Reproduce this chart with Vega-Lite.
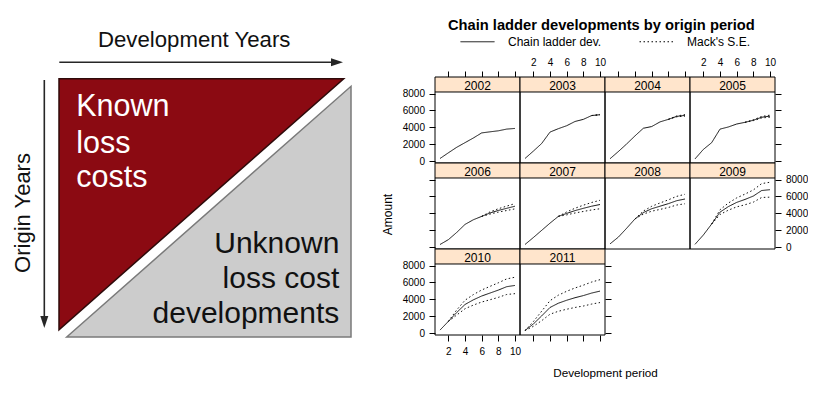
{
  "$schema": "https://vega.github.io/schema/vega-lite/v6.json",
  "background": "#ffffff",
  "autosize": {"type": "pad"},
  "padding": {"left": 11, "top": 18, "right": 0, "bottom": 0},
  "config": {
    "font": "Liberation Sans",
    "view": {"stroke": null},
    "axis": {"domain": false, "grid": false, "ticks": true, "tickColor": "#000", "tickSize": 6, "tickWidth": 1, "labelFontSize": 10, "labelColor": "#000", "labelFont": "Liberation Sans", "labelOverlap": false, "labelFlush": false, "labelBound": false, "titleFont": "Liberation Sans", "titleFontWeight": "normal", "titleColor": "#000"}
  },
  "datasets": {
    "dev": [
      {"o":2002,"d":1,"v":330,"s":"Chain ladder dev.","b":"m"},{"o":2002,"d":2,"v":1000,"s":"Chain ladder dev.","b":"m"},{"o":2002,"d":3,"v":1650,"s":"Chain ladder dev.","b":"m"},{"o":2002,"d":4,"v":2200,"s":"Chain ladder dev.","b":"m"},{"o":2002,"d":5,"v":2750,"s":"Chain ladder dev.","b":"m"},{"o":2002,"d":6,"v":3350,"s":"Chain ladder dev.","b":"m"},{"o":2002,"d":7,"v":3480,"s":"Chain ladder dev.","b":"m"},{"o":2002,"d":8,"v":3600,"s":"Chain ladder dev.","b":"m"},{"o":2002,"d":9,"v":3800,"s":"Chain ladder dev.","b":"m"},{"o":2002,"d":10,"v":3880,"s":"Chain ladder dev.","b":"m"},
      {"o":2003,"d":1,"v":330,"s":"Chain ladder dev.","b":"m"},{"o":2003,"d":2,"v":1200,"s":"Chain ladder dev.","b":"m"},{"o":2003,"d":3,"v":2100,"s":"Chain ladder dev.","b":"m"},{"o":2003,"d":4,"v":3450,"s":"Chain ladder dev.","b":"m"},{"o":2003,"d":5,"v":3850,"s":"Chain ladder dev.","b":"m"},{"o":2003,"d":6,"v":4200,"s":"Chain ladder dev.","b":"m"},{"o":2003,"d":7,"v":4700,"s":"Chain ladder dev.","b":"m"},{"o":2003,"d":8,"v":4950,"s":"Chain ladder dev.","b":"m"},{"o":2003,"d":9,"v":5400,"s":"Chain ladder dev.","b":"m"},{"o":2003,"d":10,"v":5500,"s":"Chain ladder dev.","b":"m"},
      {"o":2004,"d":1,"v":300,"s":"Chain ladder dev.","b":"m"},{"o":2004,"d":2,"v":1150,"s":"Chain ladder dev.","b":"m"},{"o":2004,"d":3,"v":2050,"s":"Chain ladder dev.","b":"m"},{"o":2004,"d":4,"v":3000,"s":"Chain ladder dev.","b":"m"},{"o":2004,"d":5,"v":3900,"s":"Chain ladder dev.","b":"m"},{"o":2004,"d":6,"v":4100,"s":"Chain ladder dev.","b":"m"},{"o":2004,"d":7,"v":4650,"s":"Chain ladder dev.","b":"m"},{"o":2004,"d":8,"v":4950,"s":"Chain ladder dev.","b":"m"},{"o":2004,"d":9,"v":5300,"s":"Chain ladder dev.","b":"m"},{"o":2004,"d":10,"v":5420,"s":"Chain ladder dev.","b":"m"},
      {"o":2005,"d":1,"v":280,"s":"Chain ladder dev.","b":"m"},{"o":2005,"d":2,"v":1400,"s":"Chain ladder dev.","b":"m"},{"o":2005,"d":3,"v":2200,"s":"Chain ladder dev.","b":"m"},{"o":2005,"d":4,"v":3800,"s":"Chain ladder dev.","b":"m"},{"o":2005,"d":5,"v":4050,"s":"Chain ladder dev.","b":"m"},{"o":2005,"d":6,"v":4400,"s":"Chain ladder dev.","b":"m"},{"o":2005,"d":7,"v":4600,"s":"Chain ladder dev.","b":"m"},{"o":2005,"d":8,"v":4850,"s":"Chain ladder dev.","b":"m"},{"o":2005,"d":9,"v":5200,"s":"Chain ladder dev.","b":"m"},{"o":2005,"d":10,"v":5330,"s":"Chain ladder dev.","b":"m"},
      {"o":2006,"d":1,"v":330,"s":"Chain ladder dev.","b":"m"},{"o":2006,"d":2,"v":900,"s":"Chain ladder dev.","b":"m"},{"o":2006,"d":3,"v":1750,"s":"Chain ladder dev.","b":"m"},{"o":2006,"d":4,"v":2700,"s":"Chain ladder dev.","b":"m"},{"o":2006,"d":5,"v":3250,"s":"Chain ladder dev.","b":"m"},{"o":2006,"d":6,"v":3650,"s":"Chain ladder dev.","b":"m"},{"o":2006,"d":7,"v":4050,"s":"Chain ladder dev.","b":"m"},{"o":2006,"d":8,"v":4350,"s":"Chain ladder dev.","b":"m"},{"o":2006,"d":9,"v":4600,"s":"Chain ladder dev.","b":"m"},{"o":2006,"d":10,"v":4850,"s":"Chain ladder dev.","b":"m"},
      {"o":2007,"d":1,"v":330,"s":"Chain ladder dev.","b":"m"},{"o":2007,"d":2,"v":1150,"s":"Chain ladder dev.","b":"m"},{"o":2007,"d":3,"v":2000,"s":"Chain ladder dev.","b":"m"},{"o":2007,"d":4,"v":2850,"s":"Chain ladder dev.","b":"m"},{"o":2007,"d":5,"v":3650,"s":"Chain ladder dev.","b":"m"},{"o":2007,"d":6,"v":4000,"s":"Chain ladder dev.","b":"m"},{"o":2007,"d":7,"v":4330,"s":"Chain ladder dev.","b":"m"},{"o":2007,"d":8,"v":4600,"s":"Chain ladder dev.","b":"m"},{"o":2007,"d":9,"v":4850,"s":"Chain ladder dev.","b":"m"},{"o":2007,"d":10,"v":5050,"s":"Chain ladder dev.","b":"m"},
      {"o":2008,"d":1,"v":400,"s":"Chain ladder dev.","b":"m"},{"o":2008,"d":2,"v":1200,"s":"Chain ladder dev.","b":"m"},{"o":2008,"d":3,"v":2250,"s":"Chain ladder dev.","b":"m"},{"o":2008,"d":4,"v":3350,"s":"Chain ladder dev.","b":"m"},{"o":2008,"d":5,"v":4100,"s":"Chain ladder dev.","b":"m"},{"o":2008,"d":6,"v":4550,"s":"Chain ladder dev.","b":"m"},{"o":2008,"d":7,"v":4850,"s":"Chain ladder dev.","b":"m"},{"o":2008,"d":8,"v":5150,"s":"Chain ladder dev.","b":"m"},{"o":2008,"d":9,"v":5500,"s":"Chain ladder dev.","b":"m"},{"o":2008,"d":10,"v":5700,"s":"Chain ladder dev.","b":"m"},
      {"o":2009,"d":1,"v":350,"s":"Chain ladder dev.","b":"m"},{"o":2009,"d":2,"v":1450,"s":"Chain ladder dev.","b":"m"},{"o":2009,"d":3,"v":2750,"s":"Chain ladder dev.","b":"m"},{"o":2009,"d":4,"v":4150,"s":"Chain ladder dev.","b":"m"},{"o":2009,"d":5,"v":4800,"s":"Chain ladder dev.","b":"m"},{"o":2009,"d":6,"v":5300,"s":"Chain ladder dev.","b":"m"},{"o":2009,"d":7,"v":5650,"s":"Chain ladder dev.","b":"m"},{"o":2009,"d":8,"v":6050,"s":"Chain ladder dev.","b":"m"},{"o":2009,"d":9,"v":6700,"s":"Chain ladder dev.","b":"m"},{"o":2009,"d":10,"v":6800,"s":"Chain ladder dev.","b":"m"},
      {"o":2010,"d":1,"v":380,"s":"Chain ladder dev.","b":"m"},{"o":2010,"d":2,"v":1400,"s":"Chain ladder dev.","b":"m"},{"o":2010,"d":3,"v":2450,"s":"Chain ladder dev.","b":"m"},{"o":2010,"d":4,"v":3400,"s":"Chain ladder dev.","b":"m"},{"o":2010,"d":5,"v":3950,"s":"Chain ladder dev.","b":"m"},{"o":2010,"d":6,"v":4400,"s":"Chain ladder dev.","b":"m"},{"o":2010,"d":7,"v":4750,"s":"Chain ladder dev.","b":"m"},{"o":2010,"d":8,"v":5100,"s":"Chain ladder dev.","b":"m"},{"o":2010,"d":9,"v":5500,"s":"Chain ladder dev.","b":"m"},{"o":2010,"d":10,"v":5650,"s":"Chain ladder dev.","b":"m"},
      {"o":2011,"d":1,"v":330,"s":"Chain ladder dev.","b":"m"},{"o":2011,"d":2,"v":1100,"s":"Chain ladder dev.","b":"m"},{"o":2011,"d":3,"v":2050,"s":"Chain ladder dev.","b":"m"},{"o":2011,"d":4,"v":3050,"s":"Chain ladder dev.","b":"m"},{"o":2011,"d":5,"v":3550,"s":"Chain ladder dev.","b":"m"},{"o":2011,"d":6,"v":3900,"s":"Chain ladder dev.","b":"m"},{"o":2011,"d":7,"v":4200,"s":"Chain ladder dev.","b":"m"},{"o":2011,"d":8,"v":4450,"s":"Chain ladder dev.","b":"m"},{"o":2011,"d":9,"v":4750,"s":"Chain ladder dev.","b":"m"},{"o":2011,"d":10,"v":4980,"s":"Chain ladder dev.","b":"m"},

      {"o":2003,"d":9,"v":5400,"s":"Mack's S.E.","b":"u"},{"o":2003,"d":10,"v":5540,"s":"Mack's S.E.","b":"u"},
      {"o":2003,"d":9,"v":5400,"s":"Mack's S.E.","b":"l"},{"o":2003,"d":10,"v":5460,"s":"Mack's S.E.","b":"l"},
      {"o":2004,"d":8,"v":4950,"s":"Mack's S.E.","b":"u"},{"o":2004,"d":9,"v":5350,"s":"Mack's S.E.","b":"u"},{"o":2004,"d":10,"v":5510,"s":"Mack's S.E.","b":"u"},
      {"o":2004,"d":8,"v":4950,"s":"Mack's S.E.","b":"l"},{"o":2004,"d":9,"v":5250,"s":"Mack's S.E.","b":"l"},{"o":2004,"d":10,"v":5330,"s":"Mack's S.E.","b":"l"},
      {"o":2005,"d":7,"v":4600,"s":"Mack's S.E.","b":"u"},{"o":2005,"d":8,"v":4900,"s":"Mack's S.E.","b":"u"},{"o":2005,"d":9,"v":5290,"s":"Mack's S.E.","b":"u"},{"o":2005,"d":10,"v":5450,"s":"Mack's S.E.","b":"u"},
      {"o":2005,"d":7,"v":4600,"s":"Mack's S.E.","b":"l"},{"o":2005,"d":8,"v":4800,"s":"Mack's S.E.","b":"l"},{"o":2005,"d":9,"v":5110,"s":"Mack's S.E.","b":"l"},{"o":2005,"d":10,"v":5210,"s":"Mack's S.E.","b":"l"},
      {"o":2006,"d":6,"v":3650,"s":"Mack's S.E.","b":"u"},{"o":2006,"d":7,"v":4180,"s":"Mack's S.E.","b":"u"},{"o":2006,"d":8,"v":4550,"s":"Mack's S.E.","b":"u"},{"o":2006,"d":9,"v":4860,"s":"Mack's S.E.","b":"u"},{"o":2006,"d":10,"v":5160,"s":"Mack's S.E.","b":"u"},
      {"o":2006,"d":6,"v":3650,"s":"Mack's S.E.","b":"l"},{"o":2006,"d":7,"v":3920,"s":"Mack's S.E.","b":"l"},{"o":2006,"d":8,"v":4150,"s":"Mack's S.E.","b":"l"},{"o":2006,"d":9,"v":4340,"s":"Mack's S.E.","b":"l"},{"o":2006,"d":10,"v":4540,"s":"Mack's S.E.","b":"l"},
      {"o":2007,"d":5,"v":3650,"s":"Mack's S.E.","b":"u"},{"o":2007,"d":6,"v":4170,"s":"Mack's S.E.","b":"u"},{"o":2007,"d":7,"v":4610,"s":"Mack's S.E.","b":"u"},{"o":2007,"d":8,"v":4970,"s":"Mack's S.E.","b":"u"},{"o":2007,"d":9,"v":5290,"s":"Mack's S.E.","b":"u"},{"o":2007,"d":10,"v":5550,"s":"Mack's S.E.","b":"u"},
      {"o":2007,"d":5,"v":3650,"s":"Mack's S.E.","b":"l"},{"o":2007,"d":6,"v":3830,"s":"Mack's S.E.","b":"l"},{"o":2007,"d":7,"v":4050,"s":"Mack's S.E.","b":"l"},{"o":2007,"d":8,"v":4230,"s":"Mack's S.E.","b":"l"},{"o":2007,"d":9,"v":4410,"s":"Mack's S.E.","b":"l"},{"o":2007,"d":10,"v":4550,"s":"Mack's S.E.","b":"l"},
      {"o":2008,"d":4,"v":3350,"s":"Mack's S.E.","b":"u"},{"o":2008,"d":5,"v":4280,"s":"Mack's S.E.","b":"u"},{"o":2008,"d":6,"v":4840,"s":"Mack's S.E.","b":"u"},{"o":2008,"d":7,"v":5230,"s":"Mack's S.E.","b":"u"},{"o":2008,"d":8,"v":5600,"s":"Mack's S.E.","b":"u"},{"o":2008,"d":9,"v":6010,"s":"Mack's S.E.","b":"u"},{"o":2008,"d":10,"v":6260,"s":"Mack's S.E.","b":"u"},
      {"o":2008,"d":4,"v":3350,"s":"Mack's S.E.","b":"l"},{"o":2008,"d":5,"v":3920,"s":"Mack's S.E.","b":"l"},{"o":2008,"d":6,"v":4260,"s":"Mack's S.E.","b":"l"},{"o":2008,"d":7,"v":4470,"s":"Mack's S.E.","b":"l"},{"o":2008,"d":8,"v":4700,"s":"Mack's S.E.","b":"l"},{"o":2008,"d":9,"v":4990,"s":"Mack's S.E.","b":"l"},{"o":2008,"d":10,"v":5140,"s":"Mack's S.E.","b":"l"},
      {"o":2009,"d":3,"v":2750,"s":"Mack's S.E.","b":"u"},{"o":2009,"d":4,"v":4430,"s":"Mack's S.E.","b":"u"},{"o":2009,"d":5,"v":5220,"s":"Mack's S.E.","b":"u"},{"o":2009,"d":6,"v":5830,"s":"Mack's S.E.","b":"u"},{"o":2009,"d":7,"v":6280,"s":"Mack's S.E.","b":"u"},{"o":2009,"d":8,"v":6770,"s":"Mack's S.E.","b":"u"},{"o":2009,"d":9,"v":7520,"s":"Mack's S.E.","b":"u"},{"o":2009,"d":10,"v":7680,"s":"Mack's S.E.","b":"u"},
      {"o":2009,"d":3,"v":2750,"s":"Mack's S.E.","b":"l"},{"o":2009,"d":4,"v":3870,"s":"Mack's S.E.","b":"l"},{"o":2009,"d":5,"v":4380,"s":"Mack's S.E.","b":"l"},{"o":2009,"d":6,"v":4770,"s":"Mack's S.E.","b":"l"},{"o":2009,"d":7,"v":5020,"s":"Mack's S.E.","b":"l"},{"o":2009,"d":8,"v":5330,"s":"Mack's S.E.","b":"l"},{"o":2009,"d":9,"v":5880,"s":"Mack's S.E.","b":"l"},{"o":2009,"d":10,"v":5920,"s":"Mack's S.E.","b":"l"},
      {"o":2010,"d":2,"v":1400,"s":"Mack's S.E.","b":"u"},{"o":2010,"d":3,"v":2750,"s":"Mack's S.E.","b":"u"},{"o":2010,"d":4,"v":3900,"s":"Mack's S.E.","b":"u"},{"o":2010,"d":5,"v":4570,"s":"Mack's S.E.","b":"u"},{"o":2010,"d":6,"v":5110,"s":"Mack's S.E.","b":"u"},{"o":2010,"d":7,"v":5540,"s":"Mack's S.E.","b":"u"},{"o":2010,"d":8,"v":5960,"s":"Mack's S.E.","b":"u"},{"o":2010,"d":9,"v":6420,"s":"Mack's S.E.","b":"u"},{"o":2010,"d":10,"v":6620,"s":"Mack's S.E.","b":"u"},
      {"o":2010,"d":2,"v":1400,"s":"Mack's S.E.","b":"l"},{"o":2010,"d":3,"v":2150,"s":"Mack's S.E.","b":"l"},{"o":2010,"d":4,"v":2900,"s":"Mack's S.E.","b":"l"},{"o":2010,"d":5,"v":3330,"s":"Mack's S.E.","b":"l"},{"o":2010,"d":6,"v":3690,"s":"Mack's S.E.","b":"l"},{"o":2010,"d":7,"v":3960,"s":"Mack's S.E.","b":"l"},{"o":2010,"d":8,"v":4240,"s":"Mack's S.E.","b":"l"},{"o":2010,"d":9,"v":4580,"s":"Mack's S.E.","b":"l"},{"o":2010,"d":10,"v":4680,"s":"Mack's S.E.","b":"l"},
      {"o":2011,"d":1,"v":330,"s":"Mack's S.E.","b":"u"},{"o":2011,"d":2,"v":1380,"s":"Mack's S.E.","b":"u"},{"o":2011,"d":3,"v":2610,"s":"Mack's S.E.","b":"u"},{"o":2011,"d":4,"v":3850,"s":"Mack's S.E.","b":"u"},{"o":2011,"d":5,"v":4500,"s":"Mack's S.E.","b":"u"},{"o":2011,"d":6,"v":4960,"s":"Mack's S.E.","b":"u"},{"o":2011,"d":7,"v":5350,"s":"Mack's S.E.","b":"u"},{"o":2011,"d":8,"v":5680,"s":"Mack's S.E.","b":"u"},{"o":2011,"d":9,"v":6050,"s":"Mack's S.E.","b":"u"},{"o":2011,"d":10,"v":6330,"s":"Mack's S.E.","b":"u"},
      {"o":2011,"d":1,"v":330,"s":"Mack's S.E.","b":"l"},{"o":2011,"d":2,"v":820,"s":"Mack's S.E.","b":"l"},{"o":2011,"d":3,"v":1490,"s":"Mack's S.E.","b":"l"},{"o":2011,"d":4,"v":2250,"s":"Mack's S.E.","b":"l"},{"o":2011,"d":5,"v":2600,"s":"Mack's S.E.","b":"l"},{"o":2011,"d":6,"v":2840,"s":"Mack's S.E.","b":"l"},{"o":2011,"d":7,"v":3050,"s":"Mack's S.E.","b":"l"},{"o":2011,"d":8,"v":3220,"s":"Mack's S.E.","b":"l"},{"o":2011,"d":9,"v":3450,"s":"Mack's S.E.","b":"l"},{"o":2011,"d":10,"v":3630,"s":"Mack's S.E.","b":"l"}
    ]
  },
  "spacing": 84,
  "bounds": "flush",
  "hconcat": [
    {
      "width": 292,
      "height": 260,
      "layer": [
        {
          "data": {"values": [{"u": 0, "top": 0.0065, "bot": 0.972}, {"u": 0.975, "top": 0.0065, "bot": 0.0065}]},
          "mark": {"type": "area", "fill": "#8b0a12", "stroke": "#2e0a0a", "strokeWidth": 1.5, "opacity": 1},
          "encoding": {
            "x": {"field": "u", "type": "quantitative", "scale": {"domain": [0, 1], "nice": false, "zero": false}, "axis": null},
            "y": {"field": "top", "type": "quantitative", "scale": {"domain": [0, 1], "nice": false, "zero": false, "reverse": true}, "axis": null},
            "y2": {"field": "bot"}
          }
        },
        {
          "data": {"values": [{"u": 0.0264, "top": 1, "bot": 1}, {"u": 1, "top": 0.0358, "bot": 1}]},
          "mark": {"type": "area", "fill": "#cccccc", "stroke": "#7a7a7a", "strokeWidth": 1.5, "opacity": 1},
          "encoding": {
            "x": {"field": "u", "type": "quantitative"},
            "y": {"field": "top", "type": "quantitative"},
            "y2": {"field": "bot"}
          }
        },
        {
          "data": {"values": [{"x1": 0.001, "x2": 0.94, "y1": -0.0565, "y2": -0.0565}, {"x1": -0.0503, "x2": -0.0503, "y1": 0.0115, "y2": 0.93}]},
          "mark": {"type": "rule", "stroke": "#262626", "strokeWidth": 1.6},
          "encoding": {
            "x": {"field": "x1", "type": "quantitative"},
            "x2": {"field": "x2"},
            "y": {"field": "y1", "type": "quantitative"},
            "y2": {"field": "y2"}
          }
        },
        {
          "data": {"values": [{"u": 0.952, "v": -0.0565, "dir": "right"}, {"u": -0.0503, "v": 0.942, "dir": "down"}]},
          "mark": {"type": "point", "filled": true, "fill": "#262626", "strokeWidth": 0, "opacity": 1, "size": 144},
          "encoding": {
            "x": {"field": "u", "type": "quantitative"},
            "y": {"field": "v", "type": "quantitative"},
            "shape": {"field": "dir", "type": "nominal", "scale": {"domain": ["right", "down"], "range": ["M-1,-0.667L1,0L-1,0.667Z", "M-0.667,-1L0.667,-1L0,1Z"]}, "legend": null}
          }
        },
        {
          "data": {"values": [{"t": "Known", "u": 0.059, "v": 0.151}, {"t": "loss", "u": 0.059, "v": 0.292}, {"t": "costs", "u": 0.059, "v": 0.424}]},
          "mark": {"type": "text", "align": "left", "baseline": "alphabetic", "fontSize": 30.5, "fill": "#ffffff"},
          "encoding": {
            "x": {"field": "u", "type": "quantitative"},
            "y": {"field": "v", "type": "quantitative"},
            "text": {"field": "t"}
          }
        },
        {
          "data": {"values": [{"t": "Unknown", "u": 0.96, "v": 0.677}, {"t": "loss cost", "u": 0.96, "v": 0.8115}, {"t": "developments", "u": 0.96, "v": 0.946}]},
          "mark": {"type": "text", "align": "right", "baseline": "alphabetic", "fontSize": 30, "fill": "#111111"},
          "encoding": {
            "x": {"field": "u", "type": "quantitative"},
            "y": {"field": "v", "type": "quantitative"},
            "text": {"field": "t"}
          }
        },
        {
          "data": {"values": [{"t": "Development Years", "u": 0.463, "v": -0.114}]},
          "mark": {"type": "text", "align": "center", "baseline": "alphabetic", "fontSize": 22.2, "fill": "#111111"},
          "encoding": {
            "x": {"field": "u", "type": "quantitative"},
            "y": {"field": "v", "type": "quantitative"},
            "text": {"field": "t"}
          }
        },
        {
          "data": {"values": [{"t": "Origin Years", "u": -0.101, "v": 0.523}]},
          "mark": {"type": "text", "align": "center", "baseline": "alphabetic", "angle": 270, "fontSize": 22, "fill": "#111111"},
          "encoding": {
            "x": {"field": "u", "type": "quantitative"},
            "y": {"field": "v", "type": "quantitative"},
            "text": {"field": "t"}
          }
        }
      ]
    },
    {
      "title": {"text": "Chain ladder developments by origin period", "anchor": "middle", "fontSize": 14.7, "fontWeight": "bold", "font": "Liberation Sans", "color": "#000", "offset": 24, "dx": 7},
      "columns": 4,
      "spacing": 0,
      "bounds": "flush",
      "concat": [
        {"width": 85, "height": 86, "layer": [
          {"data": {"name": "dev"}, "transform": [{"filter": "datum.o == 2002"}], "mark": {"type": "line", "stroke": "#111", "strokeWidth": 1},
           "encoding": {"x": {"field": "d", "type": "quantitative", "scale": {"domain": [0.4, 10.6], "nice": false, "zero": false}, "axis": {"orient": "top", "values": [2,4,6,8,10], "tickCount": 10, "labels": false, "labelOverlap": false, "title": null}},
                        "y": {"field": "v", "type": "quantitative", "scale": {"domain": [-200, 9950], "nice": false, "zero": false}, "axis": {"orient": "left", "values": [0,2000,4000,6000,8000], "tickCount": 10, "format": "d", "labels": true, "labelOverlap": false, "labelPadding": 4.5, "title": null}},
                        "strokeDash": {"field": "s", "type": "nominal", "scale": {"domain": ["Chain ladder dev.", "Mack's S.E."], "range": [[1,0],[1.5,2.5]]}, "legend": {"orient": "none", "legendX": 401, "legendY": -53, "direction": "horizontal", "title": null, "symbolType": "stroke", "symbolSize": 1156, "symbolStrokeWidth": 1, "symbolStrokeColor": "#000", "labelFontSize": 12, "labelFont": "Liberation Sans", "labelColor": "#000", "labelOffset": 13, "columnPadding": 35, "padding": 0}},
                        "detail": {"field": "b"}}},
          {"data": {"values": [{}]}, "mark": {"type": "rect", "fill": "#ffe5cc"}, "encoding": {"x": {"datum": 0.4}, "x2": {"datum": 10.6}, "y": {"datum": 8180}, "y2": {"datum": 9950}}},
          {"data": {"values": [{}]}, "mark": {"type": "rule", "stroke": "#000", "strokeWidth": 1}, "encoding": {"y": {"datum": 8180}}},
          {"data": {"values": [{}]}, "mark": {"type": "text", "text": "2002", "fontSize": 12, "baseline": "alphabetic", "align": "center", "fill": "#000"}, "encoding": {"x": {"datum": 5.5}, "y": {"datum": 8450}}},
          {"data": {"values": [{}]}, "mark": {"type": "rect", "filled": false, "stroke": "#000", "strokeWidth": 1}, "encoding": {"x": {"datum": 0.4}, "x2": {"datum": 10.6}, "y": {"datum": -200}, "y2": {"datum": 9950}}}
        ]},
        {"width": 85, "height": 86, "layer": [
          {"data": {"name": "dev"}, "transform": [{"filter": "datum.o == 2003"}], "mark": {"type": "line", "stroke": "#111", "strokeWidth": 1},
           "encoding": {"x": {"field": "d", "type": "quantitative", "scale": {"domain": [0.4, 10.6], "nice": false, "zero": false}, "axis": {"orient": "top", "values": [2,4,6,8,10], "tickCount": 10, "labels": true, "labelOverlap": false, "labelPadding": 4, "title": null}},
                        "y": {"field": "v", "type": "quantitative", "scale": {"domain": [-200, 9950], "nice": false, "zero": false}, "axis": null},
                        "strokeDash": {"field": "s", "type": "nominal", "scale": {"domain": ["Chain ladder dev.", "Mack's S.E."], "range": [[1,0],[1.5,2.5]]}, "legend": {"orient": "none", "legendX": 401, "legendY": -53, "direction": "horizontal", "title": null, "symbolType": "stroke", "symbolSize": 1156, "symbolStrokeWidth": 1, "symbolStrokeColor": "#000", "labelFontSize": 12, "labelFont": "Liberation Sans", "labelColor": "#000", "labelOffset": 13, "columnPadding": 35, "padding": 0}},
                        "detail": {"field": "b"}}},
          {"data": {"values": [{}]}, "mark": {"type": "rect", "fill": "#ffe5cc"}, "encoding": {"x": {"datum": 0.4}, "x2": {"datum": 10.6}, "y": {"datum": 8180}, "y2": {"datum": 9950}}},
          {"data": {"values": [{}]}, "mark": {"type": "rule", "stroke": "#000", "strokeWidth": 1}, "encoding": {"y": {"datum": 8180}}},
          {"data": {"values": [{}]}, "mark": {"type": "text", "text": "2003", "fontSize": 12, "baseline": "alphabetic", "align": "center", "fill": "#000"}, "encoding": {"x": {"datum": 5.5}, "y": {"datum": 8450}}},
          {"data": {"values": [{}]}, "mark": {"type": "rect", "filled": false, "stroke": "#000", "strokeWidth": 1}, "encoding": {"x": {"datum": 0.4}, "x2": {"datum": 10.6}, "y": {"datum": -200}, "y2": {"datum": 9950}}}
        ]},
        {"width": 85, "height": 86, "layer": [
          {"data": {"name": "dev"}, "transform": [{"filter": "datum.o == 2004"}], "mark": {"type": "line", "stroke": "#111", "strokeWidth": 1},
           "encoding": {"x": {"field": "d", "type": "quantitative", "scale": {"domain": [0.4, 10.6], "nice": false, "zero": false}, "axis": {"orient": "top", "values": [2,4,6,8,10], "tickCount": 10, "labels": false, "labelOverlap": false, "title": null}},
                        "y": {"field": "v", "type": "quantitative", "scale": {"domain": [-200, 9950], "nice": false, "zero": false}, "axis": null},
                        "strokeDash": {"field": "s", "type": "nominal", "scale": {"domain": ["Chain ladder dev.", "Mack's S.E."], "range": [[1,0],[1.5,2.5]]}, "legend": {"orient": "none", "legendX": 401, "legendY": -53, "direction": "horizontal", "title": null, "symbolType": "stroke", "symbolSize": 1156, "symbolStrokeWidth": 1, "symbolStrokeColor": "#000", "labelFontSize": 12, "labelFont": "Liberation Sans", "labelColor": "#000", "labelOffset": 13, "columnPadding": 35, "padding": 0}},
                        "detail": {"field": "b"}}},
          {"data": {"values": [{}]}, "mark": {"type": "rect", "fill": "#ffe5cc"}, "encoding": {"x": {"datum": 0.4}, "x2": {"datum": 10.6}, "y": {"datum": 8180}, "y2": {"datum": 9950}}},
          {"data": {"values": [{}]}, "mark": {"type": "rule", "stroke": "#000", "strokeWidth": 1}, "encoding": {"y": {"datum": 8180}}},
          {"data": {"values": [{}]}, "mark": {"type": "text", "text": "2004", "fontSize": 12, "baseline": "alphabetic", "align": "center", "fill": "#000"}, "encoding": {"x": {"datum": 5.5}, "y": {"datum": 8450}}},
          {"data": {"values": [{}]}, "mark": {"type": "rect", "filled": false, "stroke": "#000", "strokeWidth": 1}, "encoding": {"x": {"datum": 0.4}, "x2": {"datum": 10.6}, "y": {"datum": -200}, "y2": {"datum": 9950}}}
        ]},
        {"width": 85, "height": 86, "layer": [
          {"data": {"name": "dev"}, "transform": [{"filter": "datum.o == 2005"}], "mark": {"type": "line", "stroke": "#111", "strokeWidth": 1},
           "encoding": {"x": {"field": "d", "type": "quantitative", "scale": {"domain": [0.4, 10.6], "nice": false, "zero": false}, "axis": {"orient": "top", "values": [2,4,6,8,10], "tickCount": 10, "labels": true, "labelOverlap": false, "labelPadding": 4, "title": null}},
                        "y": {"field": "v", "type": "quantitative", "scale": {"domain": [-200, 9950], "nice": false, "zero": false}, "axis": {"orient": "right", "values": [0,2000,4000,6000,8000], "tickCount": 10, "labels": false, "labelOverlap": false, "title": null}},
                        "strokeDash": {"field": "s", "type": "nominal", "scale": {"domain": ["Chain ladder dev.", "Mack's S.E."], "range": [[1,0],[1.5,2.5]]}, "legend": {"orient": "none", "legendX": 401, "legendY": -53, "direction": "horizontal", "title": null, "symbolType": "stroke", "symbolSize": 1156, "symbolStrokeWidth": 1, "symbolStrokeColor": "#000", "labelFontSize": 12, "labelFont": "Liberation Sans", "labelColor": "#000", "labelOffset": 13, "columnPadding": 35, "padding": 0}},
                        "detail": {"field": "b"}}},
          {"data": {"values": [{}]}, "mark": {"type": "rect", "fill": "#ffe5cc"}, "encoding": {"x": {"datum": 0.4}, "x2": {"datum": 10.6}, "y": {"datum": 8180}, "y2": {"datum": 9950}}},
          {"data": {"values": [{}]}, "mark": {"type": "rule", "stroke": "#000", "strokeWidth": 1}, "encoding": {"y": {"datum": 8180}}},
          {"data": {"values": [{}]}, "mark": {"type": "text", "text": "2005", "fontSize": 12, "baseline": "alphabetic", "align": "center", "fill": "#000"}, "encoding": {"x": {"datum": 5.5}, "y": {"datum": 8450}}},
          {"data": {"values": [{}]}, "mark": {"type": "rect", "filled": false, "stroke": "#000", "strokeWidth": 1}, "encoding": {"x": {"datum": 0.4}, "x2": {"datum": 10.6}, "y": {"datum": -200}, "y2": {"datum": 9950}}}
        ]},
        {"width": 85, "height": 86, "layer": [
          {"data": {"name": "dev"}, "transform": [{"filter": "datum.o == 2006"}], "mark": {"type": "line", "stroke": "#111", "strokeWidth": 1},
           "encoding": {"x": {"field": "d", "type": "quantitative", "scale": {"domain": [0.4, 10.6], "nice": false, "zero": false}, "axis": null},
                        "y": {"field": "v", "type": "quantitative", "scale": {"domain": [-200, 9950], "nice": false, "zero": false}, "axis": {"orient": "left", "values": [0,2000,4000,6000,8000], "tickCount": 10, "labels": false, "labelOverlap": false, "title": "Amount", "titleX": -44, "titleY": 51, "titleAngle": 270, "titleBaseline": "alphabetic", "titleAlign": "center", "titleFontSize": 12}},
                        "strokeDash": {"field": "s", "type": "nominal", "scale": {"domain": ["Chain ladder dev.", "Mack's S.E."], "range": [[1,0],[1.5,2.5]]}, "legend": {"orient": "none", "legendX": 401, "legendY": -53, "direction": "horizontal", "title": null, "symbolType": "stroke", "symbolSize": 1156, "symbolStrokeWidth": 1, "symbolStrokeColor": "#000", "labelFontSize": 12, "labelFont": "Liberation Sans", "labelColor": "#000", "labelOffset": 13, "columnPadding": 35, "padding": 0}},
                        "detail": {"field": "b"}}},
          {"data": {"values": [{}]}, "mark": {"type": "rect", "fill": "#ffe5cc"}, "encoding": {"x": {"datum": 0.4}, "x2": {"datum": 10.6}, "y": {"datum": 8180}, "y2": {"datum": 9950}}},
          {"data": {"values": [{}]}, "mark": {"type": "rule", "stroke": "#000", "strokeWidth": 1}, "encoding": {"y": {"datum": 8180}}},
          {"data": {"values": [{}]}, "mark": {"type": "text", "text": "2006", "fontSize": 12, "baseline": "alphabetic", "align": "center", "fill": "#000"}, "encoding": {"x": {"datum": 5.5}, "y": {"datum": 8450}}},
          {"data": {"values": [{}]}, "mark": {"type": "rect", "filled": false, "stroke": "#000", "strokeWidth": 1}, "encoding": {"x": {"datum": 0.4}, "x2": {"datum": 10.6}, "y": {"datum": -200}, "y2": {"datum": 9950}}}
        ]},
        {"width": 85, "height": 86, "layer": [
          {"data": {"name": "dev"}, "transform": [{"filter": "datum.o == 2007"}], "mark": {"type": "line", "stroke": "#111", "strokeWidth": 1},
           "encoding": {"x": {"field": "d", "type": "quantitative", "scale": {"domain": [0.4, 10.6], "nice": false, "zero": false}, "axis": null},
                        "y": {"field": "v", "type": "quantitative", "scale": {"domain": [-200, 9950], "nice": false, "zero": false}, "axis": null},
                        "strokeDash": {"field": "s", "type": "nominal", "scale": {"domain": ["Chain ladder dev.", "Mack's S.E."], "range": [[1,0],[1.5,2.5]]}, "legend": {"orient": "none", "legendX": 401, "legendY": -53, "direction": "horizontal", "title": null, "symbolType": "stroke", "symbolSize": 1156, "symbolStrokeWidth": 1, "symbolStrokeColor": "#000", "labelFontSize": 12, "labelFont": "Liberation Sans", "labelColor": "#000", "labelOffset": 13, "columnPadding": 35, "padding": 0}},
                        "detail": {"field": "b"}}},
          {"data": {"values": [{}]}, "mark": {"type": "rect", "fill": "#ffe5cc"}, "encoding": {"x": {"datum": 0.4}, "x2": {"datum": 10.6}, "y": {"datum": 8180}, "y2": {"datum": 9950}}},
          {"data": {"values": [{}]}, "mark": {"type": "rule", "stroke": "#000", "strokeWidth": 1}, "encoding": {"y": {"datum": 8180}}},
          {"data": {"values": [{}]}, "mark": {"type": "text", "text": "2007", "fontSize": 12, "baseline": "alphabetic", "align": "center", "fill": "#000"}, "encoding": {"x": {"datum": 5.5}, "y": {"datum": 8450}}},
          {"data": {"values": [{}]}, "mark": {"type": "rect", "filled": false, "stroke": "#000", "strokeWidth": 1}, "encoding": {"x": {"datum": 0.4}, "x2": {"datum": 10.6}, "y": {"datum": -200}, "y2": {"datum": 9950}}}
        ]},
        {"width": 85, "height": 86, "layer": [
          {"data": {"name": "dev"}, "transform": [{"filter": "datum.o == 2008"}], "mark": {"type": "line", "stroke": "#111", "strokeWidth": 1},
           "encoding": {"x": {"field": "d", "type": "quantitative", "scale": {"domain": [0.4, 10.6], "nice": false, "zero": false}, "axis": null},
                        "y": {"field": "v", "type": "quantitative", "scale": {"domain": [-200, 9950], "nice": false, "zero": false}, "axis": null},
                        "strokeDash": {"field": "s", "type": "nominal", "scale": {"domain": ["Chain ladder dev.", "Mack's S.E."], "range": [[1,0],[1.5,2.5]]}, "legend": {"orient": "none", "legendX": 401, "legendY": -53, "direction": "horizontal", "title": null, "symbolType": "stroke", "symbolSize": 1156, "symbolStrokeWidth": 1, "symbolStrokeColor": "#000", "labelFontSize": 12, "labelFont": "Liberation Sans", "labelColor": "#000", "labelOffset": 13, "columnPadding": 35, "padding": 0}},
                        "detail": {"field": "b"}}},
          {"data": {"values": [{}]}, "mark": {"type": "rect", "fill": "#ffe5cc"}, "encoding": {"x": {"datum": 0.4}, "x2": {"datum": 10.6}, "y": {"datum": 8180}, "y2": {"datum": 9950}}},
          {"data": {"values": [{}]}, "mark": {"type": "rule", "stroke": "#000", "strokeWidth": 1}, "encoding": {"y": {"datum": 8180}}},
          {"data": {"values": [{}]}, "mark": {"type": "text", "text": "2008", "fontSize": 12, "baseline": "alphabetic", "align": "center", "fill": "#000"}, "encoding": {"x": {"datum": 5.5}, "y": {"datum": 8450}}},
          {"data": {"values": [{}]}, "mark": {"type": "rect", "filled": false, "stroke": "#000", "strokeWidth": 1}, "encoding": {"x": {"datum": 0.4}, "x2": {"datum": 10.6}, "y": {"datum": -200}, "y2": {"datum": 9950}}}
        ]},
        {"width": 85, "height": 86, "layer": [
          {"data": {"name": "dev"}, "transform": [{"filter": "datum.o == 2009"}], "mark": {"type": "line", "stroke": "#111", "strokeWidth": 1},
           "encoding": {"x": {"field": "d", "type": "quantitative", "scale": {"domain": [0.4, 10.6], "nice": false, "zero": false}, "axis": null},
                        "y": {"field": "v", "type": "quantitative", "scale": {"domain": [-200, 9950], "nice": false, "zero": false}, "axis": {"orient": "right", "values": [0,2000,4000,6000,8000], "tickCount": 10, "format": "d", "labels": true, "labelOverlap": false, "labelPadding": 4.5, "title": null}},
                        "strokeDash": {"field": "s", "type": "nominal", "scale": {"domain": ["Chain ladder dev.", "Mack's S.E."], "range": [[1,0],[1.5,2.5]]}, "legend": {"orient": "none", "legendX": 401, "legendY": -53, "direction": "horizontal", "title": null, "symbolType": "stroke", "symbolSize": 1156, "symbolStrokeWidth": 1, "symbolStrokeColor": "#000", "labelFontSize": 12, "labelFont": "Liberation Sans", "labelColor": "#000", "labelOffset": 13, "columnPadding": 35, "padding": 0}},
                        "detail": {"field": "b"}}},
          {"data": {"values": [{}]}, "mark": {"type": "rect", "fill": "#ffe5cc"}, "encoding": {"x": {"datum": 0.4}, "x2": {"datum": 10.6}, "y": {"datum": 8180}, "y2": {"datum": 9950}}},
          {"data": {"values": [{}]}, "mark": {"type": "rule", "stroke": "#000", "strokeWidth": 1}, "encoding": {"y": {"datum": 8180}}},
          {"data": {"values": [{}]}, "mark": {"type": "text", "text": "2009", "fontSize": 12, "baseline": "alphabetic", "align": "center", "fill": "#000"}, "encoding": {"x": {"datum": 5.5}, "y": {"datum": 8450}}},
          {"data": {"values": [{}]}, "mark": {"type": "rect", "filled": false, "stroke": "#000", "strokeWidth": 1}, "encoding": {"x": {"datum": 0.4}, "x2": {"datum": 10.6}, "y": {"datum": -200}, "y2": {"datum": 9950}}}
        ]},
        {"width": 85, "height": 86, "layer": [
          {"data": {"name": "dev"}, "transform": [{"filter": "datum.o == 2010"}], "mark": {"type": "line", "stroke": "#111", "strokeWidth": 1},
           "encoding": {"x": {"field": "d", "type": "quantitative", "scale": {"domain": [0.4, 10.6], "nice": false, "zero": false}, "axis": {"orient": "bottom", "values": [2,4,6,8,10], "tickCount": 10, "labels": true, "labelOverlap": false, "labelPadding": 5, "title": "Development period", "titleX": 170, "titleY": 41, "titleBaseline": "alphabetic", "titleAlign": "center", "titleFontSize": 11.7}},
                        "y": {"field": "v", "type": "quantitative", "scale": {"domain": [-200, 9950], "nice": false, "zero": false}, "axis": {"orient": "left", "values": [0,2000,4000,6000,8000], "tickCount": 10, "format": "d", "labels": true, "labelOverlap": false, "labelPadding": 4.5, "title": null}},
                        "strokeDash": {"field": "s", "type": "nominal", "scale": {"domain": ["Chain ladder dev.", "Mack's S.E."], "range": [[1,0],[1.5,2.5]]}, "legend": {"orient": "none", "legendX": 401, "legendY": -53, "direction": "horizontal", "title": null, "symbolType": "stroke", "symbolSize": 1156, "symbolStrokeWidth": 1, "symbolStrokeColor": "#000", "labelFontSize": 12, "labelFont": "Liberation Sans", "labelColor": "#000", "labelOffset": 13, "columnPadding": 35, "padding": 0}},
                        "detail": {"field": "b"}}},
          {"data": {"values": [{}]}, "mark": {"type": "rect", "fill": "#ffe5cc"}, "encoding": {"x": {"datum": 0.4}, "x2": {"datum": 10.6}, "y": {"datum": 8180}, "y2": {"datum": 9950}}},
          {"data": {"values": [{}]}, "mark": {"type": "rule", "stroke": "#000", "strokeWidth": 1}, "encoding": {"y": {"datum": 8180}}},
          {"data": {"values": [{}]}, "mark": {"type": "text", "text": "2010", "fontSize": 12, "baseline": "alphabetic", "align": "center", "fill": "#000"}, "encoding": {"x": {"datum": 5.5}, "y": {"datum": 8450}}},
          {"data": {"values": [{}]}, "mark": {"type": "rect", "filled": false, "stroke": "#000", "strokeWidth": 1}, "encoding": {"x": {"datum": 0.4}, "x2": {"datum": 10.6}, "y": {"datum": -200}, "y2": {"datum": 9950}}}
        ]},
        {"width": 85, "height": 86, "layer": [
          {"data": {"name": "dev"}, "transform": [{"filter": "datum.o == 2011"}], "mark": {"type": "line", "stroke": "#111", "strokeWidth": 1},
           "encoding": {"x": {"field": "d", "type": "quantitative", "scale": {"domain": [0.4, 10.6], "nice": false, "zero": false}, "axis": {"orient": "bottom", "values": [2,4,6,8,10], "tickCount": 10, "labels": false, "labelOverlap": false, "title": null}},
                        "y": {"field": "v", "type": "quantitative", "scale": {"domain": [-200, 9950], "nice": false, "zero": false}, "axis": {"orient": "right", "values": [0,2000,4000,6000,8000], "tickCount": 10, "labels": false, "labelOverlap": false, "title": null}},
                        "strokeDash": {"field": "s", "type": "nominal", "scale": {"domain": ["Chain ladder dev.", "Mack's S.E."], "range": [[1,0],[1.5,2.5]]}, "legend": {"orient": "none", "legendX": 401, "legendY": -53, "direction": "horizontal", "title": null, "symbolType": "stroke", "symbolSize": 1156, "symbolStrokeWidth": 1, "symbolStrokeColor": "#000", "labelFontSize": 12, "labelFont": "Liberation Sans", "labelColor": "#000", "labelOffset": 13, "columnPadding": 35, "padding": 0}},
                        "detail": {"field": "b"}}},
          {"data": {"values": [{}]}, "mark": {"type": "rect", "fill": "#ffe5cc"}, "encoding": {"x": {"datum": 0.4}, "x2": {"datum": 10.6}, "y": {"datum": 8180}, "y2": {"datum": 9950}}},
          {"data": {"values": [{}]}, "mark": {"type": "rule", "stroke": "#000", "strokeWidth": 1}, "encoding": {"y": {"datum": 8180}}},
          {"data": {"values": [{}]}, "mark": {"type": "text", "text": "2011", "fontSize": 12, "baseline": "alphabetic", "align": "center", "fill": "#000"}, "encoding": {"x": {"datum": 5.5}, "y": {"datum": 8450}}},
          {"data": {"values": [{}]}, "mark": {"type": "rect", "filled": false, "stroke": "#000", "strokeWidth": 1}, "encoding": {"x": {"datum": 0.4}, "x2": {"datum": 10.6}, "y": {"datum": -200}, "y2": {"datum": 9950}}}
        ]}
      ]
    }
  ]
}
